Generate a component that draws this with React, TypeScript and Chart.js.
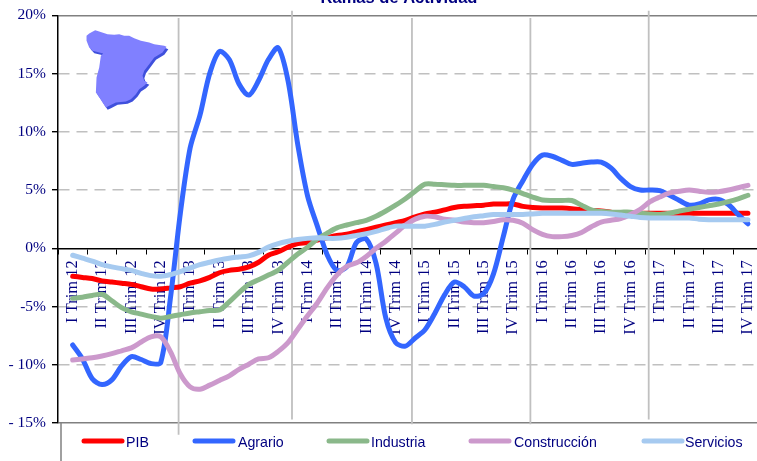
import React, { useEffect, useRef } from "react";
import { Chart, registerables } from "chart.js";

Chart.register(...registerables);

const quarters = [
  "I Trim 12", "II Trim 12", "III Trim 12", "IV Trim 12",
  "I Trim 13", "II Trim 13", "III Trim 13", "IV Trim 13",
  "I Trim 14", "II Trim 14", "III Trim 14", "IV Trim 14",
  "I Trim 15", "II Trim 15", "III Trim 15", "IV Trim 15",
  "I Trim 16", "II Trim 16", "III Trim 16", "IV Trim 16",
  "I Trim 17", "II Trim 17", "III Trim 17", "IV Trim 17",
];

// One value every third of a quarter, from I Trim 12 to IV Trim 17.
const pib = [
  -2.4, -2.5, -2.6, -2.8, -2.9, -3, -3.1, -3.3, -3.5, -3.5,
  -3.4, -3.3, -3, -2.8, -2.5, -2.1, -1.9, -1.8, -1.6, -1.2,
  -0.6, -0.3, 0.1, 0.4, 0.5, 0.7, 0.9, 1.1, 1.2, 1.4,
  1.6, 1.8, 2.0, 2.2, 2.4, 2.7, 2.95, 3.1, 3.3, 3.5,
  3.6, 3.65, 3.7, 3.8, 3.8, 3.8, 3.6, 3.5, 3.45, 3.45,
  3.45, 3.4, 3.3, 3.25, 3.2, 3.1, 3, 3, 3, 3,
  3, 3, 3, 3, 3, 3, 3, 3, 3, 3,
];
const agrario = [
  -8.3, -9.5, -11.2, -11.7, -11.3, -10.1, -9.3, -9.55, -9.9, -9.8,
  -4.2, 3.0, 8.6, 11.4, 15, 16.9, 16.2, 14.1, 13.15, 14.4,
  16.2, 17.2, 14.4, 8.9, 4.5, 1.9, -0.55, -1.9, -1.6, 0.5,
  0.8, -1.3, -6, -8.1, -8.4, -7.7, -7, -5.6, -4, -2.9,
  -3.3, -4.1, -3.9, -2.2, 1.0, 4.2, 5.8, 7.2, 8, 7.9,
  7.55, 7.2, 7.3, 7.4, 7.4, 6.9, 6, 5.3, 5, 5,
  4.95, 4.55, 4.1, 3.7, 3.8, 4.15, 4.2, 3.75, 2.9, 2.1,
];
const industria = [
  -4.3, -4.2, -4.05, -3.95, -4.5, -5.1, -5.45, -5.65, -5.85, -6,
  -5.85, -5.7, -5.55, -5.45, -5.35, -5.3, -4.6, -3.8, -3.1, -2.7,
  -2.3, -1.9, -1.2, -0.5, 0.1, 0.8, 1.3, 1.75, 2.0, 2.2,
  2.4, 2.75, 3.2, 3.7, 4.25, 4.9, 5.5, 5.5, 5.45, 5.4,
  5.4, 5.4, 5.4, 5.3, 5.2, 5.0, 4.7, 4.4, 4.15, 4.1,
  4.1, 4.1, 3.7, 3.3, 3.15, 3.1, 3.1, 3.1, 3, 2.95,
  2.9, 3, 3.2, 3.35, 3.5, 3.65, 3.8, 4, 4.25, 4.55,
];
const construccion = [
  -9.6, -9.5, -9.4, -9.25, -9.05, -8.8, -8.55, -8.05, -7.6, -7.6,
  -8.9, -10.8, -11.9, -12.1, -11.75, -11.35, -10.95, -10.4, -9.95, -9.5,
  -9.4, -8.85, -8.1, -6.95, -5.8, -4.7, -3.4, -2.3, -1.55, -1.25,
  -0.7, 0, 0.6, 1.3, 2, 2.5, 2.75, 2.7, 2.5, 2.4,
  2.25, 2.2, 2.2, 2.3, 2.45, 2.4, 2.15, 1.6, 1.2, 1,
  1, 1.1, 1.35, 1.85, 2.25, 2.4, 2.55, 2.9, 3.35, 4,
  4.4, 4.75, 4.9, 5, 4.9, 4.8, 4.85, 5, 5.2, 5.4,
];
const servicios = [
  -0.6, -0.85, -1.1, -1.4, -1.6, -1.75, -1.9, -2.15, -2.35, -2.4,
  -2.25, -2.0, -1.7, -1.4, -1.2, -1, -0.85, -0.75, -0.65, -0.35,
  0.1, 0.4, 0.6, 0.75, 0.85, 0.9, 0.85, 0.85, 0.95, 1.1,
  1.25, 1.45, 1.7, 1.9, 1.9, 1.9, 1.9, 2.05, 2.25, 2.4,
  2.55, 2.7, 2.8, 2.9, 2.9, 2.9, 2.9, 2.95, 3, 3,
  3, 3, 3, 3, 3, 2.95, 2.85, 2.75, 2.65, 2.6,
  2.6, 2.6, 2.6, 2.6, 2.5, 2.45, 2.45, 2.45, 2.45, 2.45,
];

const seriesNames = ["PIB", "Agrario", "Industria", "Construcción", "Servicios"];
const seriesValues = [pib, agrario, industria, construccion, servicios];
const seriesColors = ["#ff0000", "#3366ff", "#8ab88a", "#cc99cc", "#a6caf0"];

// Year separators: position in quarters, top and bottom in % on the value axis.
const separatorX = [3.607, 7.47, 11.556, 15.59, 19.62];
const separatorTop = [19.76, 20.4, 19.76, 19.76, 20.4];
const separatorBottom = [-16, -14.7, -15.1, -15.1, -14.7];

const yTickLabels: Record<string, string> = {
  "20": "20%", "15": "15%", "10": "10%", "5": "5%", "0": "0%",
  "-5": "-5%", "-10": "- 10%", "-15": "- 15%",
};

const chartTitle = "Ramas de Actividad";
const legendSampleX = [82, 193, 327, 469, 642];
const legendTextX = [126, 238, 371, 514, 685];

const spainOutline = [
  [22, 35], [30, 28], [48, 18], [60, 22], [85, 30], [105, 32], [120, 30], [135, 35], [150, 35],
  [165, 42], [185, 50], [210, 55], [225, 60], [255, 65], [262, 68], [250, 85], [225, 100],
  [210, 120], [195, 140], [190, 155], [195, 170], [205, 175], [195, 185], [180, 195], [170, 210],
  [155, 225], [140, 232], [110, 235], [90, 245], [80, 250], [70, 235], [62, 222], [50, 205],
  [52, 160], [60, 130], [65, 95], [72, 88], [40, 80], [30, 70], [22, 50],
];

const NAVY = "#000080";

const decorations = {
  id: "decorations",
  beforeDatasetsDraw(chart: any) {
    const { ctx } = chart;
    const trace = (dx: number, dy: number) => {
      ctx.beginPath();
      spainOutline.forEach(([a, b], i) => {
        const px = 80 + a / 3 + dx;
        const py = 25 + b / 3 + dy;
        if (i === 0) ctx.moveTo(px, py);
        else ctx.lineTo(px, py);
      });
      ctx.closePath();
    };
    ctx.save();
    ctx.fillStyle = "#3f50dc";
    trace(1, 1.5);
    ctx.fill();
    ctx.fillStyle = "#8080ff";
    trace(-0.8, -0.8);
    ctx.fill();
    ctx.restore();
  },
  afterDraw(chart: any) {
    const { ctx } = chart;
    ctx.save();
    ctx.textBaseline = "alphabetic";
    ctx.textAlign = "center";
    ctx.fillStyle = NAVY;
    ctx.font = "bold 16.5px 'Liberation Sans'";
    ctx.fillText(chartTitle, 399, 3);

    ctx.strokeStyle = "#808080";
    ctx.lineWidth = 1.5;
    ctx.beginPath();
    ctx.moveTo(61, 422);
    ctx.lineTo(61, 461);
    ctx.stroke();

    ctx.textAlign = "left";
    ctx.font = "14.2px 'Liberation Sans'";
    ctx.lineCap = "round";
    ctx.lineWidth = 5;
    seriesNames.forEach((name, i) => {
      ctx.strokeStyle = seriesColors[i];
      ctx.beginPath();
      ctx.moveTo(legendSampleX[i] + 2, 441);
      ctx.lineTo(legendSampleX[i] + 40, 441);
      ctx.stroke();
      ctx.fillStyle = NAVY;
      ctx.fillText(name, legendTextX[i], 447);
    });
    ctx.restore();
  },
};

export default function App() {
  const ref = useRef<HTMLCanvasElement>(null);
  useEffect(() => {
    const lineSets = seriesNames.map((name, i) => ({
      label: name,
      data: seriesValues[i].map((v, m) => ({ x: m / 3, y: v })),
      xAxisID: "xv",
      yAxisID: "y",
      borderColor: seriesColors[i],
      borderWidth: 5,
      borderCapStyle: "round" as const,
      borderJoinStyle: "round" as const,
      tension: 0.3,
      pointRadius: 0,
      order: 5 - i,
      clip: false as const,
    }));
    const separators = separatorX.map((x, i) => ({
      label: "sep" + i,
      data: [{ x, y: separatorTop[i] }, { x, y: separatorBottom[i] }],
      xAxisID: "xv",
      yAxisID: "y",
      borderColor: "#c0c0c0",
      borderWidth: 1.8,
      pointRadius: 0,
      order: 10,
      clip: false as const,
    }));
    const chart = new Chart(ref.current!, {
      type: "line",
      data: { labels: quarters, datasets: [...lineSets, ...separators] as any },
      plugins: [decorations],
      options: {
        animation: false,
        responsive: false,
        layout: { padding: { top: 12, bottom: 38, right: 9, left: 0 } },
        plugins: { legend: { display: false }, tooltip: { enabled: false }, title: { display: false } },
        scales: {
          xv: { type: "linear", display: false, min: -0.5, max: 23.5 },
          x: {
            type: "category",
            position: { y: 0 } as any,
            offset: true,
            grid: { display: true, drawOnChartArea: false, drawTicks: true, offset: true, tickLength: 5, tickColor: "#000000" },
            border: { display: true, color: "#000000", width: 1.5 },
            ticks: {
              autoSkip: false,
              minRotation: 90,
              maxRotation: 90,
              padding: 7,
              color: NAVY,
              font: { family: "'Liberation Serif'", size: 16.5 },
            },
          },
          y: {
            type: "linear",
            min: -15,
            max: 20,
            afterFit: (s: any) => { s.width = 58; },
            grid: {
              tickLength: 6,
              tickColor: "#000000",
              lineWidth: 1.4,
              color: (c: any) => {
                const v = c.tick?.value;
                return v === 20 || v === -15 ? "#808080" : v === 0 ? "rgba(0,0,0,0)" : "#c0c0c0";
              },
            },
            border: {
              display: true,
              color: "#000000",
              width: 1.5,
              dash: (c: any) => {
                const v = c.tick?.value;
                return v === undefined || v === 20 || v === -15 ? [] : [11, 7];
              },
            } as any,
            ticks: {
              stepSize: 5,
              padding: 6,
              color: NAVY,
              font: { family: "'Liberation Serif'", size: 15.5 },
              callback: (v: any) => yTickLabels[String(v)],
            },
          },
        },
      },
    });
    return () => chart.destroy();
  }, []);
  return (
    <div style={{ position: "fixed", left: 0, top: 0, width: 757, height: 461, overflow: "hidden", background: "#fff" }}>
      <canvas ref={ref} width={775} height={461} style={{ display: "block" }} />
    </div>
  );
}
